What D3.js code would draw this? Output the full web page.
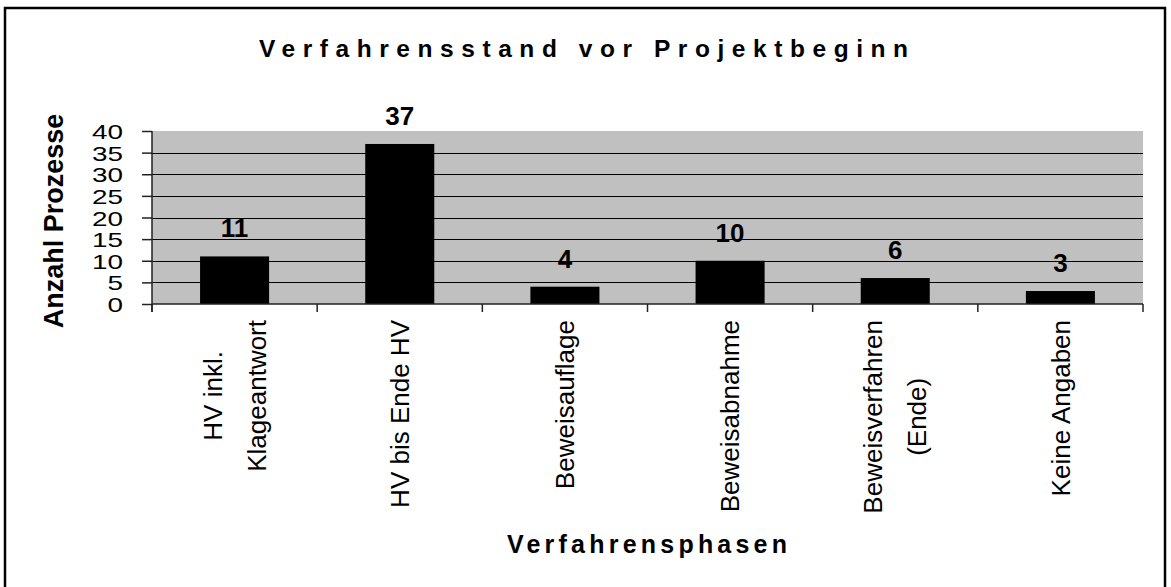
<!DOCTYPE html>
<html>
<head>
<meta charset="utf-8">
<script src="https://cdn.jsdelivr.net/npm/d3@7"></script>
<style>
  body { margin: 0; background: #fff; }
  text { font-family: "Liberation Sans", Arial, sans-serif; fill: #000; }
</style>
</head>
<body>
<div id="chart"></div>
<script>
// chart data
var categories = ["HV inkl.\nKlageantwort", "HV bis Ende HV", "Beweisauflage",
                  "Beweisabnahme", "Beweisverfahren\n(Ende)", "Keine Angaben"];
var values = [11, 37, 4, 10, 6, 3];
var yTicks = [0, 5, 10, 15, 20, 25, 30, 35, 40];
var title = "Verfahrensstand vor Projektbeginn";
var xTitle = "Verfahrensphasen";
var yTitle = "Anzahl Prozesse";

var width = 1171, height = 587;
var plot = {left: 152, right: 1143, top: 131, bottom: 304};

var svg = d3.select("#chart").append("svg")
    .attr("width", width)
    .attr("height", height);

// outer frame
svg.append("rect")
    .attr("x", 5).attr("y", 8)
    .attr("width", 1160).attr("height", 600)
    .style("fill", "none")
    .style("stroke", "#000")
    .style("stroke-width", 2.5);

var x = d3.scaleBand()
    .domain(categories)
    .range([plot.left, plot.right])
    .padding(0);

var y = d3.scaleLinear()
    .domain([0, 40])
    .range([plot.bottom, plot.top]);

// plot background
svg.append("rect")
    .attr("x", plot.left).attr("y", plot.top)
    .attr("width", plot.right - plot.left)
    .attr("height", plot.bottom - plot.top)
    .style("fill", "#c0c0c0");

// gridlines
svg.append("g").selectAll("line")
    .data(yTicks.filter(function(d) { return d > 0 && d < 40; }))
    .enter().append("line")
    .attr("x1", plot.left).attr("x2", plot.right)
    .attr("y1", function(d) { return Math.round(y(d)) + 0.5; })
    .attr("y2", function(d) { return Math.round(y(d)) + 0.5; })
    .style("stroke", "#000")
    .style("stroke-width", 1);

// bars
var barW = x.bandwidth() * 0.418;
svg.append("g").selectAll("rect")
    .data(values)
    .enter().append("rect")
    .attr("x", function(d, i) { return x(categories[i]) + (x.bandwidth() - barW) / 2; })
    .attr("y", function(d) { return y(d); })
    .attr("width", barW)
    .attr("height", function(d) { return y(0) - y(d); })
    .style("fill", "#000");

// value labels
svg.append("g").selectAll("text")
    .data(values)
    .enter().append("text")
    .attr("x", function(d, i) { return x(categories[i]) + x.bandwidth() / 2; })
    .attr("y", function(d) { return y(d) - 19; })
    .attr("text-anchor", "middle")
    .style("font-size", "26px")
    .style("font-weight", "bold")
    .text(function(d) { return d; });

// y axis - labels are squeezed like in the original (wide, short digits)
var yAxis = svg.append("g")
    .attr("transform", "translate(" + plot.left + ",0)")
    .call(d3.axisLeft(y).tickValues(yTicks).tickSize(10).tickPadding(19));
yAxis.select(".domain").remove();
yAxis.selectAll(".tick line").style("stroke", "#222").style("stroke-width", 1.5);
yAxis.selectAll("text")
    .style("font-size", "21px")
    .attr("dy", "0.36em")
    .attr("font-family", null)
    .attr("textLength", function(d) { return String(d).length * 15.5; })
    .attr("lengthAdjust", "spacingAndGlyphs");
svg.append("line")
    .attr("x1", plot.left).attr("x2", plot.left)
    .attr("y1", plot.top).attr("y2", plot.bottom + 8)
    .style("stroke", "#222").style("stroke-width", 1.5);

// x axis
var xAxis = svg.append("g")
    .attr("transform", "translate(0," + plot.bottom + ")");
xAxis.append("line")
    .attr("x1", plot.left).attr("x2", plot.right)
    .style("stroke", "#222").style("stroke-width", 1.5);
xAxis.selectAll(".xtick")
    .data(d3.range(categories.length + 1))
    .enter().append("line")
    .attr("class", "xtick")
    .attr("x1", function(i) { return plot.left + i * x.bandwidth(); })
    .attr("x2", function(i) { return plot.left + i * x.bandwidth(); })
    .attr("y1", 0).attr("y2", 8)
    .style("stroke", "#222").style("stroke-width", 1.5);

// category labels, rotated, top-aligned, lines centred on the longest one
var labelTop = 320, lineGap = 44;
categories.forEach(function(cat) {
    var lines = cat.split("\n");
    var cx = x(cat) + x.bandwidth() / 2;
    var g = svg.append("g");
    var texts = lines.map(function(line) {
        return g.append("text")
            .attr("text-anchor", "middle")
            .attr("dy", "0.35em")
            .style("font-size", "26px")
            .text(line);
    });
    var maxLen = d3.max(texts, function(t) { return t.node().getComputedTextLength(); });
    var cy = labelTop + maxLen / 2;
    texts.forEach(function(t, k) {
        var lx = cx + (k - (lines.length - 1) / 2) * lineGap;
        t.attr("transform", "translate(" + lx + "," + cy + ") rotate(-90)");
    });
});

// titles
svg.append("text")
    .attr("x", 259).attr("y", 57)
    .attr("textLength", 649)
    .attr("lengthAdjust", "spacing")
    .style("font-size", "24.5px")
    .style("font-weight", "bold")
    .text(title);

svg.append("text")
    .attr("x", 507).attr("y", 553)
    .attr("textLength", 280)
    .attr("lengthAdjust", "spacing")
    .style("font-size", "25px")
    .style("font-weight", "bold")
    .text(xTitle);

svg.append("text")
    .attr("transform", "translate(63,221) rotate(-90)")
    .attr("text-anchor", "middle")
    .style("font-size", "27px")
    .style("font-weight", "bold")
    .text(yTitle);
</script>
</body>
</html>
